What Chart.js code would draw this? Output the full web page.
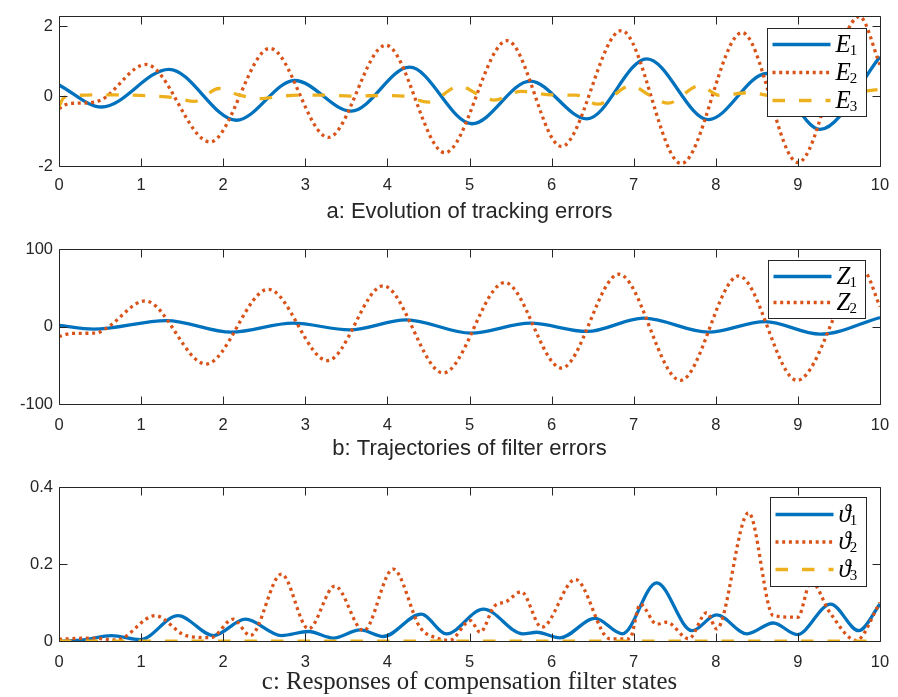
<!DOCTYPE html>
<html>
<head>
<meta charset="utf-8">
<script src="https://cdn.jsdelivr.net/npm/chart.js@4.4.1/dist/chart.umd.min.js"></script>
<style>
body { margin: 0; background: #fff; }
canvas { position: absolute; left: 0; }
</style>
</head>
<body>
<canvas id="chartA" width="898" height="232" style="top:0px"></canvas>
<canvas id="chartB" width="898" height="234" style="top:232px"></canvas>
<canvas id="chartC" width="898" height="231" style="top:466px"></canvas>
<script>
// time axis, shared by all three panels
const xTicks = [0, 1, 2, 3, 4, 5, 6, 7, 8, 9, 10]

// a: tracking errors  [t, value]
const e1 = [[0,0.32],[0.52,-0.31],[1.34,0.77],[2.16,-0.69],[2.87,0.45],[3.56,-0.43],[4.27,0.83],[5.03,-0.79],[5.74,0.43],[6.43,-0.65],[7.16,1.07],[7.91,-0.67],[8.62,0.65],[9.27,-0.95],[10,1.13]]
const e2 = [[0,-0.36],[0.07,-0.25],[0.2,-0.2],[0.36,-0.19],[0.52,-0.1],[1.06,0.91],[1.84,-1.31],[2.57,1.37],[3.28,-1.18],[3.98,1.46],[4.70,-1.62],[5.46,1.59],[6.12,-1.44],[6.85,1.88],[7.58,-1.93],[8.32,1.82],[9.0,-1.9],[9.75,2.28],[10,0.9]]
const e3 = [[0,-0.3],[0.06,-0.04],[0.2,0.02],[0.55,0.04],[0.9,0.03],[1.2,0.0],[1.4,-0.04],[1.65,-0.15],[1.95,0.22],[2.2,0.03],[2.45,-0.07],[2.7,0.0],[2.95,0.03],[3.25,0.03],[3.55,0.0],[3.9,0.02],[4.2,0.0],[4.5,-0.17],[4.88,0.29],[5.12,0.03],[5.3,-0.11],[5.63,0.14],[6.0,0.035],[6.3,0.03],[6.56,-0.23],[6.97,0.3],[7.2,0.02],[7.42,-0.2],[7.8,0.3],[8.05,0.02],[8.4,0.1],[8.7,0.0],[9.05,-0.05],[9.4,0.0],[9.75,0.12],[10,0.2]]
const yTicksA = [-2, 0, 2]

// b: filter errors
const z1 = [[0,1.5],[0.42,-3.4],[1.31,7.7],[2.1,-7.3],[2.85,4.3],[3.54,-4.3],[4.23,8.6],[5.02,-8.6],[5.74,4.3],[6.43,-6.4],[7.12,10.7],[7.91,-7.3],[8.6,6.4],[9.27,-9.9],[10,11.6]]
const z2 = [[0,-12.9],[0.17,-8.8],[0.45,-8.6],[0.58,-2],[1.05,33],[1.79,-48.5],[2.55,48],[3.27,-44],[3.95,52.4],[4.68,-60],[5.43,56.7],[6.12,-53.6],[6.82,67.4],[7.57,-69.5],[8.28,65.2],[8.99,-69.5],[9.8,70.8],[10,25.7]]
const yTicksB = [-100, 0, 100]

// c: compensation filter states
const th1 = [[0,0],[0.3,0.003],[0.64,0.0145],[0.99,0.004],[1.45,0.066],[1.88,0.0145],[2.27,0.057],[2.71,0.0145],[3.04,0.025],[3.34,0.008],[3.67,0.029],[3.95,0.012],[4.41,0.07],[4.72,0.019],[5.17,0.083],[5.65,0.019],[5.82,0.023],[6.1,0.0085],[6.53,0.059],[6.86,0.019],[7.28,0.151],[7.71,0.027],[8.01,0.068],[8.38,0.019],[8.7,0.047],[8.99,0.017],[9.4,0.096],[9.74,0.027],[10,0.096]]
const th2 = [[0,0.005],[0.4,0.008],[0.7,0.003],[1.17,0.066],[1.55,0.014],[1.85,0.009],[2.12,0.057],[2.33,0.0145],[2.71,0.174],[3.04,0.032],[3.36,0.143],[3.71,0.027],[4.07,0.187],[4.4,0.035],[4.6,0.008],[4.76,0.002],[5.01,0.053],[5.13,0.023],[5.3,0.09],[5.45,0.103],[5.63,0.128],[5.88,0.036],[6.29,0.16],[6.71,0.006],[6.95,0.006],[7.08,0.096],[7.28,0.044],[7.4,0.049],[7.67,0.006],[7.89,0.074],[8.01,0.032],[8.4,0.333],[8.7,0.066],[9.0,0.062],[9.16,0.155],[9.39,0.074],[9.71,0.002],[10,0.1]]
const th3 = [[0,0],[10,0]]
const yTicksC = [0, 0.2, 0.4]

const BLUE = "#0072BD", RED = "#D95319", YELLOW = "#EDB120", INK = "#262626"

function pts(arr) { return arr.map(p => ({x: p[0], y: p[1]})) }

function line(label, data, color, dash, order) {
    return {label: label, data: pts(data), borderColor: color, borderWidth: 3.3, borderDash: dash,
        pointRadius: 0, cubicInterpolationMode: "monotone", fill: false, order: order}
}

// matlab style box with inward ticks on all four sides
const axesBox = {
    id: "axesBox",
    afterDatasetsDraw(chart) {
        const ctx = chart.ctx, a = chart.chartArea, xs = chart.scales.x, ys = chart.scales.y
        const L = Math.round(a.left) + 0.5, R = Math.round(a.right) + 0.5
        const T = Math.round(a.top) + 0.5, B = Math.round(a.bottom) + 0.5
        ctx.save()
        ctx.strokeStyle = INK
        ctx.lineWidth = 1
        ctx.beginPath()
        ctx.rect(L, T, R - L, B - T)
        xs.ticks.forEach(t => {
            const px = Math.round(xs.getPixelForValue(t.value)) + 0.5
            ctx.moveTo(px, B); ctx.lineTo(px, B - 8)
            ctx.moveTo(px, T); ctx.lineTo(px, T + 8)
        })
        ys.ticks.forEach(t => {
            const py = Math.round(ys.getPixelForValue(t.value)) + 0.5
            ctx.moveTo(L, py); ctx.lineTo(L + 8, py)
            ctx.moveTo(R, py); ctx.lineTo(R - 8, py)
        })
        ctx.stroke()
        ctx.restore()
    }
}

// boxed legend in the upper right corner, label = symbol + subscript
const boxLegend = {
    id: "boxLegend",
    afterDraw(chart, args, o) {
        const ctx = chart.ctx, a = chart.chartArea
        const sets = chart.data.datasets
        const h = o.pad * 2 + (sets.length - 1) * o.gap
        const x0 = Math.round(a.right - o.right - o.width) + 0.5
        const y0 = Math.round(a.top + o.top) + 0.5
        ctx.save()
        ctx.fillStyle = "#fff"
        ctx.fillRect(x0, y0, o.width, h)
        ctx.strokeStyle = INK
        ctx.lineWidth = 1
        ctx.strokeRect(x0, y0, o.width, h)
        sets.forEach((ds, i) => {
            const yy = y0 + o.pad + i * o.gap
            ctx.beginPath()
            ctx.setLineDash(ds.borderDash || [])
            ctx.strokeStyle = ds.borderColor
            ctx.lineWidth = ds.borderWidth
            ctx.moveTo(x0 + 5, yy)
            ctx.lineTo(x0 + 63, yy)
            ctx.stroke()
            ctx.setLineDash([])
            ctx.fillStyle = "#000"
            ctx.textBaseline = "alphabetic"
            ctx.font = 'italic 25px "Liberation Serif"'
            const sym = ds.label.slice(0, 1)
            ctx.fillText(sym, x0 + 68, yy + 7)
            const w = ctx.measureText(sym).width
            ctx.font = '15px "Liberation Serif"'
            ctx.fillText(ds.label.slice(1), x0 + 68 + w - 1, yy + 10)
        })
        ctx.restore()
    }
}

function makeChart(id, datasets, s) {
    return new Chart(document.getElementById(id), {
        type: "line",
        data: {datasets: datasets},
        options: {
            responsive: false,
            animation: false,
            events: [],
            layout: {padding: {top: s.padTop, bottom: s.padBottom, left: 0, right: 18}},
            scales: {
                x: {
                    type: "linear", min: 0, max: 10,
                    afterBuildTicks: sc => { sc.ticks = xTicks.map(v => ({value: v})) },
                    afterFit: sc => { sc.height = s.xH; sc.paddingLeft = 0; sc.paddingRight = 0 },
                    grid: {display: false, drawTicks: false},
                    border: {display: false},
                    ticks: {color: INK, font: {family: '"Liberation Sans"', size: 16.5}, padding: s.xPad,
                        maxRotation: 0, autoSkip: false, callback: v => String(v)}
                },
                y: {
                    type: "linear", min: s.yMin, max: s.yMax,
                    afterBuildTicks: sc => { sc.ticks = s.yTicks.map(v => ({value: v})) },
                    afterFit: sc => { sc.width = 59 },
                    grid: {display: false, drawTicks: false},
                    border: {display: false},
                    ticks: {color: INK, font: {family: '"Liberation Sans"', size: 16.5}, padding: 6,
                        callback: v => String(v)}
                }
            },
            plugins: {
                legend: {display: false},
                tooltip: {enabled: false},
                title: {display: true, text: s.title, position: "bottom", fullSize: false, color: INK,
                    font: s.titleFont, padding: {top: s.tPad, bottom: 0}},
                boxLegend: s.legend
            }
        },
        plugins: [axesBox, boxLegend]
    })
}

makeChart("chartA", [
    line("E1", e1, BLUE, [], 2),
    line("E2", e2, RED, [3, 3.7], 1),
    line("E3", e3, YELLOW, [12.5, 14], 0)
], {yMin: -2, yMax: 2.3, yTicks: yTicksA, padTop: 10, padBottom: 6.8, xPad: 10, xH: 30, tPad: 2.8,
    title: "a: Evolution of tracking errors", titleFont: {family: '"Liberation Sans"', size: 22, weight: "normal", lineHeight: 1.2},
    legend: {top: 12, right: 14, width: 99, pad: 16, gap: 28}})

makeChart("chartB", [
    line("Z1", z1, BLUE, [], 1),
    line("Z2", z2, RED, [3, 3.7], 0)
], {yMin: -100, yMax: 100, yTicks: yTicksB, padTop: 17, padBottom: 3.8, xPad: 12, xH: 30, tPad: 1.8,
    title: "b: Trajectories of filter errors", titleFont: {family: '"Liberation Sans"', size: 22, weight: "normal", lineHeight: 1.2},
    legend: {top: 11, right: 15, width: 97, pad: 16, gap: 26}})

makeChart("chartC", [
    line("\u03D11", th1, BLUE, [], 2),
    line("\u03D12", th2, RED, [3, 3.7], 1),
    line("\u03D13", th3, YELLOW, [12.5, 14], 0)
], {yMin: 0, yMax: 0.4, yTicks: yTicksC, padTop: 21, padBottom: 0.8, xPad: 11, xH: 26, tPad: 1.8,
    title: "c: Responses of compensation filter states", titleFont: {family: '"Liberation Serif"', size: 24.8, weight: "normal", lineHeight: 1.1},
    legend: {top: 10, right: 14, width: 96, pad: 17, gap: 27.5}})
</script>
</body>
</html>
